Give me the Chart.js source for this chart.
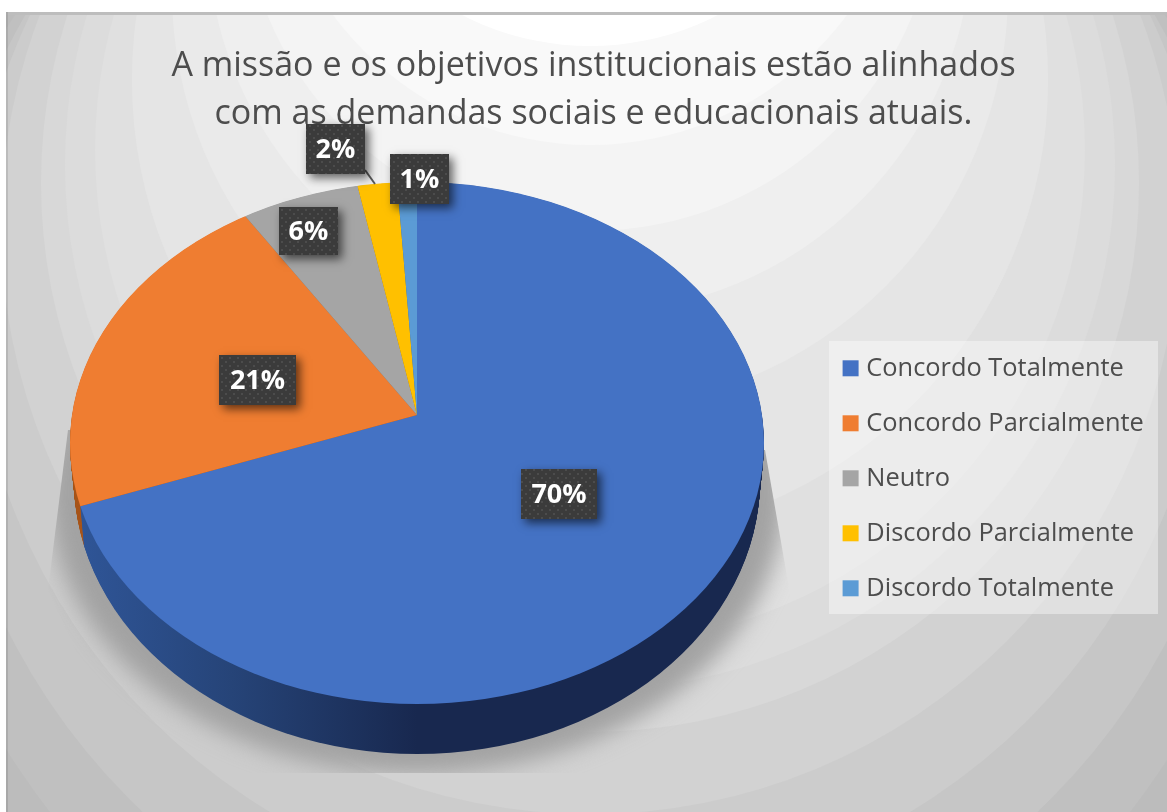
<!DOCTYPE html>
<html>
<head>
<meta charset="utf-8">
<style>
  html, body { margin: 0; padding: 0; background: #fff; overflow: hidden; }
  #wrap { width: 1167px; height: 812px; }
</style>
<script src="https://cdn.jsdelivr.net/npm/chart.js@4"></script>
</head>
<body>
<div id="wrap"><canvas id="pieChart" width="1167" height="812"></canvas></div>
<script>
const titleLines = [
  'A missão e os objetivos institucionais estão alinhados',
  'com as demandas sociais e educacionais atuais.'
];
const categories = [
  'Concordo Totalmente',
  'Concordo Parcialmente',
  'Neutro',
  'Discordo Parcialmente',
  'Discordo Totalmente'
];
const percentValues = [70, 21, 6, 2, 1];
const sliceColors = ['#4472c4', '#ef7d31', '#a5a5a5', '#ffc000', '#5b9bd5'];
const sideColors = ['#1a2a50', '#a8561c', '#6f6f6f', '#a67c00', '#3a6a96'];

// 3D look of the Excel pie: top ellipse, bottom ellipse, apex of the wedges
const topOval = { x: 417, y: 443, rx: 347, ry: 261 };
const baseOval = { x: 417, y: 480, rx: 343, ry: 274 };
const apex = { x: 417, y: 415, sx: 347, up: 255, down: 289, grow: 1.35 };

// label boxes are hand placed in the original too
const labelBoxes = [
  { x: 521, y: 469, w: 76, h: 50 },
  { x: 219, y: 355, w: 77, h: 50 },
  { x: 279, y: 207, w: 59, h: 48 },
  { x: 306, y: 124, w: 59, h: 50 },
  { x: 390, y: 154, w: 59, h: 50 }
];

// background bands of the chart area, outermost first: [centre y, radius, gray]
const bgBands = [
  [389, 686, 192], [339, 651, 198], [281, 620, 204], [225, 589, 210],
  [183, 549, 216], [165, 525, 220], [150, 495, 224], [80, 458, 229],
  [-9, 418, 234], [-70, 383, 239], [-118, 349, 244], [-174, 319, 249],
  [-234, 280, 255]
];

function paintBackground(ctx) {
  ctx.fillStyle = '#fff';
  ctx.fillRect(0, 0, 1167, 812);
  ctx.save();
  ctx.beginPath();
  ctx.rect(6, 12, 1161, 800);
  ctx.clip();
  ctx.fillStyle = 'rgb(188,188,188)';
  ctx.fillRect(6, 12, 1161, 800);
  bgBands.forEach(function (b) {
    ctx.fillStyle = 'rgb(' + b[2] + ',' + b[2] + ',' + b[2] + ')';
    ctx.beginPath();
    ctx.arc(590, b[0], b[1], 0, Math.PI * 2);
    ctx.fill();
  });
  ctx.restore();
  ctx.fillStyle = '#bdbdbd';
  ctx.fillRect(6, 12, 1161, 3);
  ctx.fillStyle = 'rgba(0,0,0,0.1)';
  ctx.fillRect(6, 12, 2, 800);
  // legend panel
  ctx.fillStyle = 'rgba(255,255,255,0.4)';
  ctx.fillRect(829, 341, 329, 273);
}

function paintShadow(ctx) {
  ctx.save();
  ctx.beginPath();
  ctx.moveTo(68, 430);
  ctx.lineTo(48, 590);
  ctx.lineTo(130, 773);
  ctx.lineTo(700, 773);
  ctx.lineTo(792, 605);
  ctx.lineTo(765, 450);
  ctx.closePath();
  ctx.clip();
  ctx.filter = 'blur(11px)';
  ctx.fillStyle = '#a2a2a2';
  ctx.beginPath();
  ctx.ellipse(417, 492, 368, 282, 0, 0, Math.PI * 2);
  ctx.fill();
  ctx.restore();
}

// draws the library's arcs through the wedge mapping, cut by an oval
function drawWedges(ctx, arcs, oval, shiftY, paint) {
  const R = arcs[0].outerRadius;
  ctx.save();
  ctx.beginPath();
  ctx.ellipse(oval.x, oval.y, oval.rx, oval.ry, 0, 0, Math.PI * 2);
  ctx.clip();
  [[0, apex.y + shiftY, apex.up], [apex.y + shiftY, 812, apex.down]].forEach(function (part) {
    ctx.save();
    ctx.beginPath();
    ctx.rect(0, part[0], 1167, part[1] - part[0]);
    ctx.clip();
    ctx.translate(apex.x, apex.y + shiftY);
    ctx.scale(apex.sx * apex.grow / R, part[2] * apex.grow / R);
    ctx.translate(-arcs[0].x, -arcs[0].y);
    arcs.forEach(function (arc, i) { paint(arc, i); });
    ctx.restore();
  });
  ctx.restore();
}

function withColor(ctx, arc, color) {
  const saved = arc.options;
  arc.options = Object.assign({}, saved, { backgroundColor: color, borderWidth: 0 });
  arc.draw(ctx);
  arc.options = saved;
}

function dotPattern(ctx) {
  const tile = document.createElement('canvas');
  tile.width = 8;
  tile.height = 8;
  const t = tile.getContext('2d');
  t.fillStyle = 'rgba(255,255,255,0.09)';
  t.fillRect(1, 1, 2, 2);
  t.fillRect(5, 5, 2, 2);
  return ctx.createPattern(tile, 'repeat');
}

const pie3dPlugin = {
  id: 'pie3d',
  beforeDraw(chart) {
    paintBackground(chart.ctx);
    paintShadow(chart.ctx);
  },
  afterLayout(chart) {
    // move legend and title to where the original has them
    const lg = chart.legend;
    const h = lg.bottom - lg.top;
    lg.left = 818;
    lg.right = 1160;
    lg.top = 326;
    lg.bottom = 326 + h;
    chart.titleBlock.left += 10;
    chart.titleBlock.right += 10;
  },
  beforeDatasetDraw(chart) {
    const ctx = chart.ctx;
    const arcs = chart.getDatasetMeta(0).data;
    const R = arcs[0].outerRadius;
    const steps = 50;
    // blue side gets darker from left to the front, as in the original
    const toArcX = function (px) { return arcs[0].x + (px - apex.x) * R / (apex.sx * apex.grow); };
    const sideBlue = ctx.createLinearGradient(toArcX(80), 0, toArcX(417), 0);
    sideBlue.addColorStop(0, '#2f5597');
    sideBlue.addColorStop(0.45, '#264478');
    sideBlue.addColorStop(1, '#18284f');
    for (let s = steps; s >= 1; s--) {
      const t = s / steps;
      const oval = {
        x: topOval.x,
        y: topOval.y + (baseOval.y - topOval.y) * t,
        rx: topOval.rx + (baseOval.rx - topOval.rx) * t,
        ry: topOval.ry + (baseOval.ry - topOval.ry) * t
      };
      drawWedges(ctx, arcs, oval, 40 * t, function (arc, i) {
        withColor(ctx, arc, i === 0 ? sideBlue : sideColors[i]);
      });
    }
    drawWedges(ctx, arcs, topOval, 0, function (arc) { arc.draw(ctx); });
    return false;
  },
  afterDatasetsDraw(chart) {
    const ctx = chart.ctx;
    const dots = dotPattern(ctx);
    ctx.save();
    // leader line of the 2% label
    ctx.strokeStyle = '#595959';
    ctx.lineWidth = 2;
    ctx.beginPath();
    ctx.moveTo(365, 170);
    ctx.lineTo(375, 184);
    ctx.stroke();
    percentValues.forEach(function (v, i) {
      const b = labelBoxes[i];
      ctx.save();
      ctx.shadowColor = 'rgba(0,0,0,0.6)';
      ctx.shadowBlur = 9;
      ctx.shadowOffsetX = 4;
      ctx.shadowOffsetY = 4;
      ctx.fillStyle = '#3b3b3b';
      ctx.fillRect(b.x, b.y, b.w, b.h);
      ctx.restore();
      ctx.fillStyle = dots;
      ctx.fillRect(b.x, b.y, b.w, b.h);
      ctx.fillStyle = '#fff';
      ctx.font = 'bold 27px "Open Sans"';
      ctx.textAlign = 'center';
      ctx.textBaseline = 'middle';
      ctx.fillText(v + '%', b.x + b.w / 2, b.y + b.h / 2 + 1);
    });
    ctx.restore();
  }
};

new Chart(document.getElementById('pieChart'), {
  type: 'pie',
  data: {
    labels: categories,
    datasets: [{
      data: percentValues,
      backgroundColor: sliceColors,
      borderWidth: 0
    }]
  },
  options: {
    responsive: false,
    animation: false,
    plugins: {
      tooltip: { enabled: false },
      title: {
        display: true,
        text: titleLines,
        color: '#4d4d4d',
        font: { family: '"Open Sans"', size: 34, weight: 'normal', lineHeight: 1.4 },
        padding: { top: 43, bottom: 10 }
      },
      legend: {
        position: 'right',
        align: 'start',
        labels: {
          color: '#4d4d4d',
          font: { family: '"Open Sans"', size: 25.4 },
          usePointStyle: true,
          pointStyle: 'rect',
          boxWidth: 6,
          boxHeight: 16,
          padding: 29.6
        }
      }
    }
  },
  plugins: [pie3dPlugin]
});
</script>
</body>
</html>
